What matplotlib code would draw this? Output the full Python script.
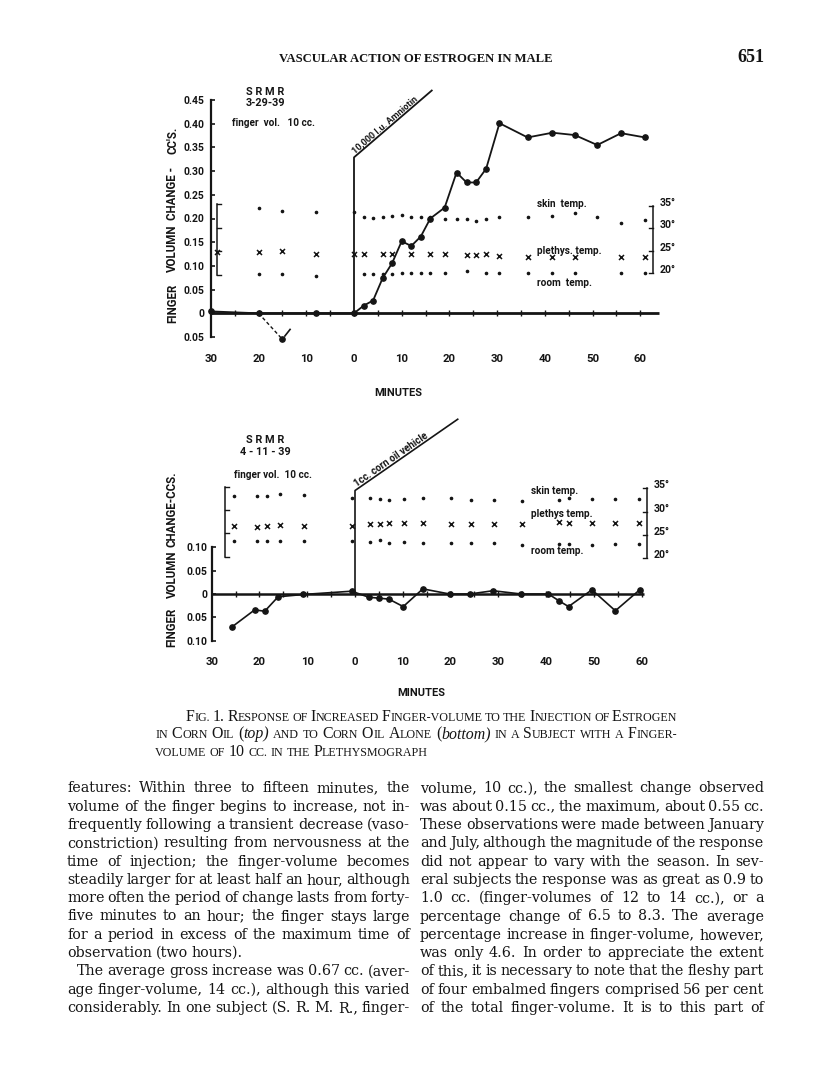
import numpy as np
import matplotlib
matplotlib.use("Agg")
import matplotlib.pyplot as plt

W, H = 816, 1078
INK = "#151515"

plt.rcParams["font.family"] = ["Roboto", "DejaVu Sans"]
plt.rcParams["font.weight"] = "bold"

# ---------------- values ----------------
minute_ticks = [-30, -20, -10, 0, 10, 20, 30, 40, 50, 60]
minute_labels = ["30", "20", "10", "0", "10", "20", "30", "40", "50", "60"]
temp_ticks = [35, 30, 25, 20]
temp_labels = ["35°", "30°", "25°", "20°"]

# top panel  (S R M R, 3-29-39, 10,000 I.u. Amniotin at t=0)
top_yticks = [-0.05, 0, 0.05, 0.10, 0.15, 0.20, 0.25, 0.30, 0.35, 0.40, 0.45]
top_ylabels = ["0.05", "0", "0.05", "0.10", "0.15", "0.20", "0.25", "0.30",
               "0.35", "0.40", "0.45"]
top_t = [-30, -20, -8, 0, 2, 4, 6, 8, 10, 12, 14, 16, 19, 21.5, 23.6, 25.6,
         27.7, 30.5, 36.4, 41.6, 46.3, 51, 56, 61]
top_vol = [0.004, 0.0, 0.0, 0.0, 0.016, 0.027, 0.074, 0.106, 0.152, 0.142,
           0.162, 0.200, 0.223, 0.297, 0.276, 0.276, 0.305, 0.401, 0.371,
           0.381, 0.376, 0.355, 0.380, 0.371]
top_dip_t = [-20, -15]
top_dip_vol = [0.0, -0.055]
top_arrow_t = [-14.5, -13.4]
top_arrow_vol = [-0.048, -0.034]
top_inj_t = [0, 0, 16.3]
top_inj_v = [0, 0.329, 0.47]

top_skin_t = [-20, -15, -8, 0, 2, 4, 6, 8, 10, 12, 14, 16, 19, 21.5, 23.6,
              25.6, 27.7, 30.5, 36.4, 41.6, 46.3, 51, 56, 61]
top_skin = [34.6, 33.9, 33.7, 33.6, 32.6, 32.4, 32.6, 32.8, 33.0, 32.6, 32.6,
            32.6, 32.2, 32.0, 32.0, 31.7, 32.0, 32.6, 32.6, 32.8, 33.4, 32.6,
            31.3, 31.9]
top_pleth_t = [-28.8, -20, -15, -8, 0, 2, 6, 8, 12, 16, 19, 23.6, 25.6, 27.7,
               30.5, 36.4, 41.6, 46.3, 56, 61]
top_pleth = [24.8, 24.8, 24.9, 24.2, 24.4, 24.2, 24.3, 24.3, 24.3, 24.3, 24.4,
             24.1, 24.1, 24.3, 23.9, 23.7, 23.7, 23.7, 23.7, 23.7]
top_room_t = [-20, -15, -8, 2, 4, 6, 8, 10, 12, 14, 16, 19, 23.6, 27.7, 30.5,
              36.4, 41.6, 46.3, 56, 61]
top_room = [19.8, 19.8, 19.5, 19.8, 19.8, 19.8, 19.9, 20.1, 20.1, 20.1, 20.1,
            20.1, 20.4, 20.1, 20.1, 20.0, 20.1, 20.0, 20.1, 20.1]

# bottom panel (S R M R, 4-11-39, 1 cc. corn oil vehicle at t=0)
bot_yticks = [-0.10, -0.05, 0, 0.05, 0.10]
bot_ylabels = ["0.10", "0.05", "0", "0.05", "0.10"]
bot_t = [-25.8, -21, -18.9, -16.1, -10.8, -0.7, 2.9, 5.1, 7.1, 10.1, 14.2,
         19.8, 24, 28.9, 34.8, 40.5, 42.6, 44.7, 49.6, 54.5, 59.6]
bot_vol = [-0.071, -0.034, -0.037, -0.006, -0.001, 0.006, -0.007, -0.009,
           -0.011, -0.027, 0.011, 0.0, 0.0, 0.007, 0.0, 0.0, -0.014, -0.027,
           0.009, -0.036, 0.009]
bot_inj_t = [0, 0, 21.5]
bot_inj_v = [0, 0.222, 0.375]
bot_temp_t = [-25.3, -20.5, -18.5, -15.6, -10.6, -0.6, 3.1, 5.2, 7.1, 10.3,
              14.3, 20.2, 24.2, 29, 35, 42.7, 44.7, 49.7, 54.5, 59.5]
bot_skin = [33.3, 33.3, 33.3, 33.8, 33.6, 32.9, 32.9, 32.7, 32.5, 32.7, 32.9,
            33.0, 32.5, 32.5, 32.3, 32.5, 33.0, 32.7, 32.7, 32.7]
bot_pleth = [26.9, 26.8, 26.9, 27.1, 26.9, 26.9, 27.3, 27.3, 27.6, 27.5, 27.5,
             27.3, 27.3, 27.3, 27.3, 27.8, 27.6, 27.5, 27.5, 27.6]
bot_room = [23.8, 23.8, 23.8, 23.8, 23.8, 23.8, 23.6, 23.9, 23.3, 23.6, 23.3,
            23.2, 23.2, 23.2, 22.8, 23.1, 23.1, 22.8, 23.1, 23.1]

header = "VASCULAR ACTION OF ESTROGEN IN MALE"
page_no = "651"

caption = [
    ["Fig.", "1.", "Response", "of", "Increased", "Finger-volume", "to", "the",
     "Injection", "of", "Estrogen"],
    ["in", "Corn", "Oil", "({top})", "and", "to", "Corn", "Oil", "Alone",
     "({bottom})", "in", "a", "Subject", "with", "a", "Finger-"],
    ["volume", "of", "10", "cc.", "in", "the", "Plethysmograph"],
]

left_col = [
    "features: Within three to fifteen minutes, the",
    "volume of the finger begins to increase, not in-",
    "frequently following a transient decrease (vaso-",
    "constriction) resulting from nervousness at the",
    "time of injection; the finger-volume becomes",
    "steadily larger for at least half an hour, although",
    "more often the period of change lasts from forty-",
    "five minutes to an hour; the finger stays large",
    "for a period in excess of the maximum time of",
    "observation (two hours).",
    "The average gross increase was 0.67 cc. (aver-",
    "age finger-volume, 14 cc.), although this varied",
    "considerably.  In one subject (S. R. M. R., finger-",
]
right_col = [
    "volume, 10 cc.), the smallest change observed",
    "was about 0.15 cc., the maximum, about 0.55 cc.",
    "These observations were made between January",
    "and July, although the magnitude of the response",
    "did not appear to vary with the season.  In sev-",
    "eral subjects the response was as great as 0.9 to",
    "1.0 cc. (finger-volumes of 12 to 14 cc.), or a",
    "percentage change of 6.5 to 8.3.  The average",
    "percentage increase in finger-volume, however,",
    "was only 4.6.  In order to appreciate the extent",
    "of this, it is necessary to note that the fleshy part",
    "of four embalmed fingers comprised 56 per cent",
    "of the total finger-volume.  It is to this part of",
]

# ---------------- helpers ----------------
fig = plt.figure(figsize=(W / 100, H / 100), dpi=100)
fig.patch.set_facecolor("white")
renderer = fig.canvas.get_renderer()


def text_px(x, y, s, **kw):
    kw.setdefault("color", INK)
    return fig.text(x / W, 1 - y / H, s, **kw)


def width_px(s, **kw):
    t = fig.text(0, 0, s, **kw)
    w = t.get_window_extent(renderer).width
    t.remove()
    return w


def word_widths(words, join):
    widths = [[width_px(s, **p) for s, p in w] for w in words]
    return widths, [sum(ws) + join * (len(ws) - 1) for ws in widths]


def place_words(words, x0, x1, y, justify=True, space=4.0, join=0.0):
    widths, totals = word_widths(words, join)
    gap = space
    if justify and len(words) > 1:
        gap = (x1 - x0 - sum(totals)) / (len(words) - 1)
    x = x0
    for w, ws in zip(words, widths):
        for (s, p), wi in zip(w, ws):
            text_px(x, y, s, ha="left", va="baseline", **p)
            x += wi + join
        x += gap - join


SERIF = dict(family="Liberation Serif", weight="normal")
BODY = dict(family="DejaVu Serif", weight="normal")


def body_words(line, size):
    return [[(w, dict(fontsize=size, **BODY))] for w in line.split()]


def smallcap_words(words, big, small):
    out = []
    for w in words:
        runs, buf, kind = [], "", None
        italic = False
        for ch in w:
            if ch == "{":
                italic = True
                continue
            if ch == "}":
                italic = False
                continue
            if italic:
                k = "it"
            elif ch.islower():
                k = "sm"
            elif ch.isalnum() or kind is None:
                k = "big"
            else:
                k = kind
            if k != kind and buf:
                runs.append((buf, kind))
                buf = ""
            kind = k
            buf += ch
        if buf:
            runs.append((buf, kind))
        word = []
        for s, k in runs:
            if k == "sm":
                word.append((s.upper(), dict(fontsize=small, **SERIF)))
            elif k == "it":
                word.append((s, dict(fontsize=big, family="Liberation Serif",
                                     weight="normal", style="italic")))
            else:
                word.append((s, dict(fontsize=big, **SERIF)))
        out.append(word)
    return out


def make_axes(x0, sx, y0, sy, xlim, ylim):
    left = x0 + xlim[0] * sx
    right = x0 + xlim[1] * sx
    top = y0 - ylim[1] * sy
    bottom = y0 - ylim[0] * sy
    ax = fig.add_axes([left / W, 1 - bottom / H, (right - left) / W,
                       (bottom - top) / H])
    ax.set_xlim(*xlim)
    ax.set_ylim(*ylim)
    ax.patch.set_alpha(0)
    for s in ("top", "right", "bottom"):
        ax.spines[s].set_visible(False)
    return ax


def style_axes(ax, yticks, ylabels, ypad, xpad):
    ax.spines["left"].set_position(("data", -30))
    ax.spines["left"].set_bounds(yticks[0], yticks[-1])
    ax.spines["left"].set_linewidth(1.6)
    ax.spines["left"].set_color(INK)
    ax.set_yticks(yticks)
    ax.set_yticklabels(ylabels)
    ax.tick_params(axis="y", direction="in", length=3, width=1.2,
                   pad=ypad, labelsize=7.5, colors=INK)
    ax.set_xticks(minute_ticks)
    ax.set_xticklabels(minute_labels)
    ax.tick_params(axis="x", length=0, pad=xpad, labelsize=8.2, colors=INK)


def temp_bracket(ax, x, to_y, lo, hi, ticks, direction, labels=None):
    ax.plot([x, x], [to_y(lo), to_y(hi)], color=INK, lw=1.1, clip_on=False)
    for T in ticks:
        ax.plot([x, x + direction * 0.9], [to_y(T), to_y(T)], color=INK,
                lw=1.0, clip_on=False)
    if labels:
        for T, lab in zip(ticks, labels):
            ax.annotate(lab, (x, to_y(T)), xytext=(4.5, 2.2),
                        textcoords="offset points", ha="left", va="center",
                        fontsize=7.6, color=INK, annotation_clip=False)


def inj_label(ax, ts, vs, s, size):
    p0 = ax.transData.transform((ts[1], vs[1]))
    p1 = ax.transData.transform((ts[2], vs[2]))
    ang = np.degrees(np.arctan2(p1[1] - p0[1], p1[0] - p0[0]))
    f = 0.03
    ax.text(ts[1] + f * (ts[2] - ts[1]), vs[1] + f * (vs[2] - vs[1]), s,
            rotation=ang, rotation_mode="anchor", ha="left", va="bottom",
            fontsize=size, color=INK)


# ---------------- top panel ----------------
ax1 = make_axes(354, 4.77, 313.3, 474, (-32, 66), (-0.065, 0.48))
style_axes(ax1, top_yticks, top_ylabels, ypad=4.5, xpad=7.0)
t2y_top = lambda T: 0.0844 + (np.asarray(T) - 20) * 0.00947

ax1.hlines(0, -30, 64, color=INK, lw=2.0)
ax1.plot(np.arange(-25, 61, 5), np.zeros(18), "|", color=INK, ms=4, mew=1.0)
ax1.plot(top_t, top_vol, "-o", color=INK, lw=1.3, ms=3.8, zorder=4)
ax1.plot(top_dip_t, top_dip_vol, "--", color=INK, lw=1.0, dashes=(2.5, 1.8))
ax1.plot(top_dip_t[-1:], top_dip_vol[-1:], "o", color=INK, ms=3.8)
ax1.plot(top_arrow_t, top_arrow_vol, "-", color=INK, lw=1.2)
ax1.plot(top_inj_t, top_inj_v, "-", color=INK, lw=1.3, clip_on=False)
ax1.plot(top_skin_t, t2y_top(top_skin), "o", color=INK, ms=1.6)
ax1.plot(top_pleth_t, t2y_top(top_pleth), "x", color=INK, ms=3.6, mew=1.1)
ax1.plot(top_room_t, t2y_top(top_room), "o", color=INK, ms=1.6)
temp_bracket(ax1, -28.8, t2y_top, 19.6, 35.4, [35.4, 30, 25, 19.6], +1)
temp_bracket(ax1, 62.7, t2y_top, 20, 35, temp_ticks, -1, temp_labels)
inj_label(ax1, top_inj_t, top_inj_v, "10,000 I.u. Amniotin", 6.6)

text_px(265, 91.7, "S R M R", ha="center", va="center", fontsize=7.8)
text_px(265, 103.3, "3-29-39", ha="center", va="center", fontsize=7.8)
text_px(273.7, 122.7, "finger  vol.   10 cc.", ha="center", va="center",
        fontsize=7.2)
text_px(537.3, 204, "skin  temp.", ha="left", va="center", fontsize=7.2)
text_px(537.3, 250.7, "plethys. temp.", ha="left", va="center", fontsize=7.2)
text_px(537.3, 282.7, "room  temp.", ha="left", va="center", fontsize=7.2)
text_px(398, 393, "MINUTES", ha="center", va="center", fontsize=8.0)
for word, yy in [("FINGER", 303.5), ("VOLUMN", 248.5), ("CHANGE -", 193.5),
                 ("CC'S.", 140)]:
    text_px(172.7, yy, word, rotation=90, ha="center", va="center",
            fontsize=8.3)

# ---------------- bottom panel ----------------
ax2 = make_axes(355, 4.777, 594, 466, (-32, 66), (-0.12, 0.40))
style_axes(ax2, bot_yticks, bot_ylabels, ypad=3.0, xpad=5.0)
t2y_bot = lambda T: 0.0766 + (np.asarray(T) - 20) * 0.01001

ax2.hlines(0, -30, 60.5, color=INK, lw=1.8)
ax2.plot(np.arange(-25, 61, 5), np.zeros(18), "|", color=INK, ms=4.5, mew=1.0)
ax2.plot(bot_t, bot_vol, "-o", color=INK, lw=1.2, ms=3.8, zorder=4)
ax2.plot(bot_inj_t, bot_inj_v, "-", color=INK, lw=1.2, clip_on=False)
ax2.plot(bot_temp_t, t2y_bot(bot_skin), "o", color=INK, ms=1.6)
ax2.plot(bot_temp_t, t2y_bot(bot_pleth), "x", color=INK, ms=3.6, mew=1.1)
ax2.plot(bot_temp_t, t2y_bot(bot_room), "o", color=INK, ms=1.6)
temp_bracket(ax2, -27.2, t2y_bot, 20.3, 35.3, [35.3, 30.3, 25.4, 20.3], +1)
temp_bracket(ax2, 61.2, t2y_bot, 20, 35, temp_ticks, -1, temp_labels)
inj_label(ax2, bot_inj_t, bot_inj_v, "1cc. corn oil vehicle", 7.0)

text_px(265, 440, "S R M R", ha="center", va="center", fontsize=7.8)
text_px(265, 452.3, "4 - 11 - 39", ha="center", va="center", fontsize=7.8)
text_px(273.3, 475, "finger vol.  10 cc.", ha="center", va="center",
        fontsize=7.2)
text_px(530.7, 490.7, "skin temp.", ha="left", va="center", fontsize=7.2)
text_px(530.7, 514, "plethys temp.", ha="left", va="center", fontsize=7.2)
text_px(530.7, 550.7, "room temp.", ha="left", va="center", fontsize=7.2)
text_px(421.5, 693.3, "MINUTES", ha="center", va="center", fontsize=8.0)
for word, yy in [("FINGER", 627), ("VOLUMN", 574), ("CHANGE-CCS.", 509)]:
    text_px(172, yy, word, rotation=90, ha="center", va="center", fontsize=8.3)

# ---------------- page text ----------------
HEAD = dict(family="Liberation Serif", weight="bold")
hsize = 8.0 * 274 / width_px(header, fontsize=8.0, **HEAD)
text_px(416, 61.5, header, ha="center", va="baseline", fontsize=hsize, **HEAD)
text_px(764, 62.5, page_no, ha="right", va="baseline", fontsize=13,
        family="Liberation Serif", weight="bold")

# caption in small capitals, size chosen so the lines fill their measure
cap_rows = [(186, 677, 721.0, True), (155, 677, 738.5, True),
            (155, 677, 756.0, False)]
_, tot = word_widths(smallcap_words(caption[1], 10.0, 7.6), 0.0)
nat = sum(tot) + 3.0 * (len(tot) - 1)
cap_scale = 0.985 * (cap_rows[1][1] - cap_rows[1][0]) / nat
cap_big, cap_small = 10.0 * cap_scale, 7.6 * cap_scale
for words, (x0, x1, yb, just) in zip(caption, cap_rows):
    place_words(smallcap_words(words, cap_big, cap_small), x0, x1, yb,
                justify=just, space=3.0 * cap_scale)

# body text: size chosen so the fullest line just fits the column
worst = 0.0
for line in left_col + right_col:
    _, tot = word_widths(body_words(line, 10.0), 0.0)
    worst = max(worst, (sum(tot) + 2.4 * (len(tot) - 1)) / 343.0)
body_size = 10.0 / worst * 0.995
for i, line in enumerate(left_col):
    x0 = 76.7 if line.startswith("The average") else 67
    place_words(body_words(line, body_size), x0, 410, 792.4 + 18.3 * i,
                justify=not line.startswith("observation"),
                space=0.27 * body_size * 100 / 72)
for i, line in enumerate(right_col):
    place_words(body_words(line, body_size), 420, 764, 792.4 + 18.3 * i,
                justify=True)

fig.savefig("out.png", dpi=100, facecolor="white")
